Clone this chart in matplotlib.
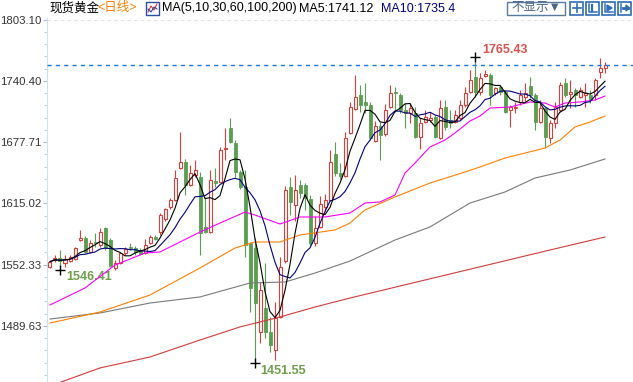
import numpy as np
import pandas as pd
import matplotlib
matplotlib.use("Agg")
import matplotlib.pyplot as plt
from matplotlib.patches import Rectangle
from matplotlib.ticker import FixedLocator, AutoMinorLocator

plt.rcParams['font.family'] = ['Liberation Sans', 'Noto Sans CJK SC', 'DejaVu Sans']

# daily candles (oldest first)
opens = [1550.2, 1557.1, 1559.1, 1554.0, 1556.3, 1558.1, 1577.5, 1579.6, 1565.3, 1575.5,
         1572.4, 1589.8, 1577.5, 1548.9, 1554.0, 1564.2, 1570.4, 1569.3, 1567.3, 1564.2,
         1574.5, 1580.6, 1585.7, 1599.0, 1611.3, 1618.5, 1651.3, 1657.4, 1633.9, 1644.1,
         1642.0, 1590.9, 1585.7, 1638.0, 1636.9, 1670.7, 1692.2, 1676.9, 1647.2, 1631.8,
         1574.5, 1569.3, 1483.3, 1507.9, 1483.3, 1464.9, 1498.7, 1556.0, 1631.8, 1613.4,
         1633.9, 1633.9, 1619.5, 1574.5, 1590.9, 1611.3, 1618.5, 1665.6, 1646.1, 1643.1,
         1687.1, 1711.7, 1726.0, 1718.9, 1715.8, 1678.9, 1694.3, 1686.1, 1713.7, 1729.1,
         1726.0, 1710.7, 1707.6, 1707.6, 1683.0, 1698.4, 1700.4, 1703.5, 1682.0, 1713.7,
         1700.4, 1698.4, 1702.5, 1715.8, 1729.1, 1744.5, 1729.1, 1745.5, 1746.5, 1728.1,
         1734.2, 1729.1, 1710.7, 1713.2, 1718.9, 1724.0, 1735.2, 1726.0, 1698.4, 1712.7,
         1682.0, 1697.4, 1710.7, 1738.3, 1727.0, 1731.1, 1724.0, 1726.0, 1726.0, 1726.0,
         1749.6, 1754.2]
highs = [1557.1, 1562.2, 1567.3, 1562.2, 1562.2, 1570.4, 1587.8, 1581.6, 1577.5, 1584.7,
         1589.8, 1590.9, 1579.6, 1557.1, 1565.3, 1570.4, 1574.5, 1571.4, 1569.3, 1578.6,
         1582.7, 1582.7, 1605.2, 1610.3, 1620.5, 1649.2, 1688.1, 1660.5, 1654.3, 1659.5,
         1647.2, 1621.6, 1649.2, 1651.3, 1672.8, 1692.2, 1702.5, 1679.9, 1649.2, 1649.2,
         1575.5, 1579.6, 1534.5, 1554.0, 1498.7, 1514.1, 1560.1, 1632.8, 1642.0, 1644.1,
         1639.0, 1635.9, 1623.6, 1602.1, 1622.6, 1624.6, 1669.7, 1677.9, 1656.4, 1688.1,
         1718.9, 1746.5, 1736.3, 1738.3, 1718.9, 1699.4, 1698.4, 1716.8, 1736.3, 1734.2,
         1728.1, 1717.8, 1717.8, 1713.7, 1702.5, 1710.7, 1708.6, 1705.5, 1720.9, 1720.9,
         1710.7, 1710.7, 1720.9, 1734.2, 1751.6, 1765.43, 1748.5, 1751.6, 1748.5, 1734.2,
         1736.3, 1731.1, 1715.8, 1718.9, 1731.1, 1738.3, 1744.5, 1728.1, 1720.9, 1713.7,
         1700.4, 1718.9, 1739.3, 1743.4, 1741.4, 1733.2, 1734.2, 1738.3, 1731.1, 1743.4,
         1763.9, 1759.8]
lows = [1548.9, 1555.0, 1546.41, 1549.9, 1555.0, 1557.1, 1576.5, 1564.2, 1564.2, 1570.4,
        1570.4, 1567.3, 1549.9, 1546.8, 1552.5, 1562.2, 1567.3, 1562.2, 1562.2, 1563.0,
        1573.4, 1577.5, 1582.7, 1597.0, 1609.3, 1617.5, 1650.2, 1623.6, 1632.8, 1642.0,
        1562.2, 1584.7, 1584.7, 1631.8, 1635.9, 1659.5, 1676.9, 1642.0, 1630.0, 1560.1,
        1503.8, 1451.55, 1472.1, 1477.2, 1462.9, 1454.7, 1497.7, 1554.0, 1603.1, 1597.0,
        1620.5, 1608.3, 1572.5, 1571.4, 1589.8, 1607.2, 1617.5, 1643.1, 1640.0, 1642.0,
        1686.1, 1710.7, 1708.6, 1707.6, 1679.9, 1677.9, 1659.5, 1684.0, 1712.5, 1708.6,
        1707.6, 1692.2, 1697.4, 1682.0, 1670.7, 1697.4, 1698.4, 1682.0, 1681.0, 1690.2,
        1692.2, 1697.4, 1700.4, 1713.7, 1728.1, 1724.0, 1726.0, 1744.5, 1715.8, 1726.0,
        1726.0, 1708.0, 1693.3, 1707.6, 1715.8, 1718.9, 1722.9, 1690.2, 1697.4, 1671.7,
        1676.9, 1692.2, 1708.6, 1724.0, 1712.7, 1713.7, 1722.9, 1713.7, 1717.8, 1720.9,
        1743.4, 1748.5]
closes = [1555.3, 1559.1, 1556.0, 1558.1, 1560.4, 1569.3, 1579.6, 1565.3, 1574.5, 1574.5,
          1585.7, 1569.3, 1550.9, 1554.0, 1564.2, 1568.3, 1569.3, 1565.3, 1563.2, 1572.4,
          1580.6, 1578.6, 1603.1, 1609.3, 1618.5, 1641.0, 1657.4, 1633.9, 1646.1, 1649.2,
          1584.7, 1585.7, 1639.0, 1635.9, 1669.7, 1671.7, 1677.9, 1647.2, 1631.8, 1572.4,
          1528.4, 1513.0, 1526.3, 1483.3, 1470.0, 1497.7, 1549.9, 1628.7, 1616.5, 1628.7,
          1625.7, 1620.5, 1574.5, 1589.8, 1614.4, 1618.5, 1657.4, 1646.1, 1643.1, 1682.0,
          1713.7, 1724.0, 1715.8, 1715.8, 1682.0, 1694.3, 1685.1, 1710.7, 1728.1, 1727.6,
          1710.7, 1707.6, 1712.7, 1683.0, 1697.4, 1703.5, 1702.5, 1683.0, 1712.7, 1693.3,
          1697.4, 1705.5, 1715.8, 1728.1, 1741.4, 1729.1, 1743.4, 1747.5, 1726.0, 1733.2,
          1729.1, 1708.6, 1713.7, 1714.2, 1726.0, 1728.1, 1726.0, 1698.4, 1712.7, 1683.0,
          1697.4, 1713.7, 1736.3, 1726.0, 1729.1, 1726.0, 1731.1, 1728.1, 1720.9, 1741.4,
          1753.7, 1756.7]

# longer moving averages at a few candles
ma30_idx = [0, 7, 13, 19, 22, 26, 30, 34, 39, 41, 46, 50, 55, 60, 63, 66, 69, 71, 73, 76,
            79, 81, 84, 86, 88, 92, 96, 99, 101, 103, 106, 109, 111]
ma30_val = [1511.0, 1528.4, 1551.9, 1564.2, 1565.3, 1575.5, 1585.7, 1594.9, 1606.2, 1603.1,
            1593.9, 1601.1, 1601.1, 1605.2, 1615.4, 1616.5, 1623.6, 1646.1, 1656.4, 1672.8,
            1679.9, 1687.1, 1699.4, 1704.5, 1712.7, 1713.7, 1718.9, 1717.8, 1713.7, 1717.8,
            1718.9, 1720.9, 1725.0]
ma60_idx = [0, 10, 20, 30, 37, 41, 46, 50, 57, 60, 63, 69, 76, 83, 86, 91, 99, 102, 105, 108, 111]
ma60_val = [1492.5, 1503.8, 1521.2, 1548.9, 1569.3, 1575.5, 1575.5, 1582.7, 1587.8, 1594.9,
            1608.3, 1621.6, 1635.9, 1647.2, 1652.3, 1661.5, 1671.7, 1679.9, 1693.3, 1698.4, 1704.5]
ma100_idx = [0, 10, 20, 30, 40, 47, 53, 60, 69, 76, 84, 91, 97, 104, 111]
ma100_val = [1496.6, 1502.8, 1513.0, 1519.2, 1533.5, 1534.5, 1543.7, 1556.0, 1577.5, 1590.9,
             1615.4, 1626.7, 1641.0, 1649.2, 1660.5]
ma200_idx = [0, 10, 20, 30, 38, 46, 53, 60, 70, 80, 90, 100, 111]
ma200_val = [1428.0, 1446.5, 1457.7, 1475.1, 1488.5, 1498.7, 1508.9, 1518.1, 1530.4, 1542.7,
             1555.0, 1567.3, 1580.6]

ytick_vals = [1489.63, 1552.33, 1615.02, 1677.71, 1740.40, 1803.10]

df = pd.DataFrame({'open': opens, 'high': highs, 'low': lows, 'close': closes})
df['ma5'] = df['close'].rolling(5, min_periods=1).mean()
df['ma10'] = df['close'].rolling(10, min_periods=1).mean()
x = np.arange(len(df))
up = (df['close'] >= df['open']).values

RED = '#d9403a'
GREEN = '#5b9e52'

fig = plt.figure(figsize=(6.33, 3.82), dpi=100)
ax = fig.add_axes([47 / 633, 0, 586 / 633, 364 / 382])
ax.set_xlim(-0.6, 116.6)
ax.set_ylim(1432.1, 1804.9)

# candles
ax.vlines(x[up], df['low'][up], df['high'][up], color=RED, lw=0.8, zorder=2)
ax.vlines(x[~up], df['low'][~up], df['high'][~up], color=GREEN, lw=0.8, zorder=2)
body = (df['close'] - df['open']).abs().clip(lower=0.8)
ax.bar(x[up], body[up], bottom=df['open'][up], width=0.6,
       facecolor='white', edgecolor=RED, linewidth=0.8, zorder=3)
ax.bar(x[~up], body[~up], bottom=df['close'][~up], width=0.6,
       facecolor=GREEN, edgecolor=GREEN, linewidth=0.6, zorder=3)

# moving averages
ax.plot(ma200_idx, ma200_val, color='#d23c3c', lw=0.8, zorder=4)
ax.plot(ma100_idx, ma100_val, color='#7a7a7a', lw=0.8, zorder=4)
ax.plot(ma60_idx, ma60_val, color='#ff8000', lw=0.8, zorder=4)
ax.plot(ma30_idx, ma30_val, color='#ff00ff', lw=0.8, zorder=4)
ax.plot(x, df['ma10'], color='#000080', lw=0.8, zorder=4)
ax.plot(x, df['ma5'], color='black', lw=0.8, zorder=4)

# last price line + top guide
ax.axhline(closes[-1], color='#1a78e0', lw=1, ls=(0, (3, 3)), zorder=5)
ax.axhline(ytick_vals[-1], color='#e2e2e2', lw=0.8, ls=(0, (3, 3)), zorder=1)

# extreme markers
hi_i = int(np.argmax(highs))
lo_i = int(np.argmin(lows))
first_lo = int(np.argmin(lows[:20]))
for xi, yv in [(hi_i, highs[hi_i]), (lo_i, lows[lo_i]), (first_lo, lows[first_lo])]:
    ax.plot(xi, yv, marker='+', ms=7, mew=1, color='black', zorder=6)
ax.annotate(f'{highs[hi_i]:.2f}', (hi_i, highs[hi_i]), xytext=(5, 5), textcoords='offset points',
            ha='left', va='center', fontsize=9, fontweight='bold', color='#d9534f')
ax.annotate(f'{lows[first_lo]:.2f}', (first_lo, lows[first_lo]), xytext=(4.3, -5),
            textcoords='offset points', ha='left', va='center', fontsize=9,
            fontweight='bold', color='#6f9e4c')
ax.annotate(f'{lows[lo_i]:.2f}', (lo_i, lows[lo_i]), xytext=(3.6, -5.8),
            textcoords='offset points', ha='left', va='center', fontsize=9,
            fontweight='bold', color='#6f9e4c')

# axis styling
for s in ['top', 'right', 'bottom']:
    ax.spines[s].set_visible(False)
ax.spines['left'].set_color('#d3dfea')
ax.set_xticks([])
ax.yaxis.set_major_locator(FixedLocator(ytick_vals))
ax.set_yticklabels([f'{v:.2f}' for v in ytick_vals])
ax.yaxis.set_minor_locator(AutoMinorLocator(5))
ax.tick_params(axis='y', which='major', length=3, color='#9fb3c8', labelsize=8.2,
               labelcolor='#333333', pad=1)
ax.tick_params(axis='y', which='minor', length=2, color='#b8c8d8')

# header bar (pixel coordinates)
ov = fig.add_axes([0, 0, 1, 1])
ov.set_xlim(0, 633)
ov.set_ylim(382, 0)
ov.axis('off')
ov.text(49, 8.5, '现货黄金', fontsize=9, va='center', color='black')
ov.text(97, 8.5, '<日线>', fontsize=9, va='center', color='#ff7f00')
ov.add_patch(Rectangle((146, 2), 13, 13, fill=False, edgecolor='#2c4ea0', lw=1))
ov.plot([148, 151, 154, 157], [12, 6, 10, 4], color='#e03030', lw=0.8)
ov.plot([148, 151, 154, 157], [9, 12, 7, 9], color='#2c4ea0', lw=0.8)
ov.text(162, 8.5, 'MA(5,10,30,60,100,200)', fontsize=9, va='center', color='black')
ov.text(299, 8.5, 'MA5:1741.12', fontsize=9, va='center', color='black')
ov.text(381, 8.5, 'MA10:1735.4', fontsize=9, va='center', color='#000080')

ov.add_patch(Rectangle((507, 1.5), 58, 13.5, facecolor='white', edgecolor='#5a7aa0', lw=1))
ov.text(536, 8.5, '不显示▼', fontsize=9, ha='center', va='center', color='#4e6784')
blue = '#2f6db5'
for x0 in [570, 586, 602, 618]:
    ov.add_patch(Rectangle((x0, 1.5), 13, 13, fill=False, edgecolor=blue, lw=1.2))
ov.plot([576.5, 576.5], [4, 12], color=blue, lw=1.2)
ov.plot([572.5, 580.5], [8, 8], color=blue, lw=1.2)
ov.plot([589, 589, 597], [4, 12, 12], color=blue, lw=1.1)
ov.plot([592, 592], [5, 11], color=blue, lw=1.6)
ov.plot([605, 605, 613], [4, 12, 12], color=blue, lw=1.1)
ov.fill([607, 607, 612], [5, 11, 8], color=blue)
ov.plot([621, 621], [4, 12], color=blue, lw=1.1)
ov.plot([623, 628], [8, 8], color=blue, lw=2)
ov.fill([626, 626, 629.5], [5, 11, 8], color=blue)

fig.savefig('out.png', dpi=100, facecolor='white')
